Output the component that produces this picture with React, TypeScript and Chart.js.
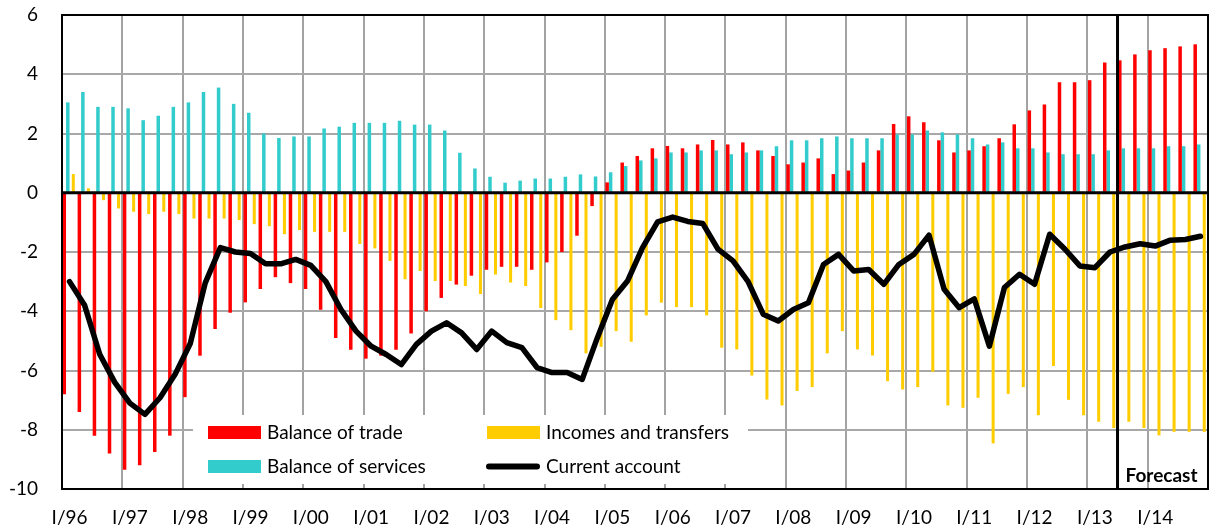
import React, { useEffect, useRef } from "react";
import { Chart, registerables } from "chart.js";

Chart.register(...registerables);

const yearLabels = ["96", "97", "98", "99", "00", "01", "02", "03", "04", "05", "06", "07", "08", "09", "10", "11", "12", "13", "14"];
const quarterLabels = ["I", "II", "III", "IV"];
const categories = yearLabels.flatMap((y) => quarterLabels.map((q) => `${q}/${y}`));

const balanceOfTrade = [
  -6.8, -7.4, -8.2, -8.8, -9.35, -9.2, -8.75, -8.2, -6.9, -5.5, -4.6, -4.05,
  -3.7, -3.25, -2.85, -3.05, -3.25, -3.95, -4.9, -5.3, -5.6, -5.5, -5.3, -4.75,
  -4.0, -3.55, -3.1, -2.8, -2.6, -2.5, -2.5, -2.6, -2.35, -2.0, -1.45, -0.45,
  0.35, 1.02, 1.24, 1.5, 1.58, 1.5, 1.63, 1.78, 1.63, 1.7, 1.43, 1.24,
  0.96, 1.02, 1.16, 0.63, 0.75, 1.02, 1.43, 2.32, 2.58, 2.38, 1.77, 1.36,
  1.43, 1.57, 1.84, 2.31, 2.78, 2.98, 3.73, 3.73, 3.8, 4.4, 4.47, 4.67,
  4.81, 4.88, 4.94, 5.01,
];

const balanceOfServices = [
  3.05, 3.4, 2.9, 2.9, 2.85, 2.45, 2.6, 2.9, 3.05, 3.4, 3.55, 3.0,
  2.7, 2.0, 1.85, 1.9, 1.9, 2.17, 2.23, 2.36, 2.36, 2.36, 2.43, 2.3,
  2.3, 2.1, 1.35, 0.82, 0.54, 0.34, 0.41, 0.48, 0.48, 0.54, 0.62, 0.55,
  0.69, 0.9, 1.09, 1.16, 1.36, 1.36, 1.43, 1.43, 1.3, 1.36, 1.43, 1.57,
  1.77, 1.77, 1.84, 1.9, 1.84, 1.84, 1.84, 1.97, 1.97, 2.1, 2.04, 1.97,
  1.84, 1.63, 1.7, 1.5, 1.5, 1.36, 1.3, 1.3, 1.3, 1.43, 1.5, 1.5,
  1.5, 1.57, 1.57, 1.63,
];

const incomesAndTransfers = [
  0.63, 0.15, -0.25, -0.53, -0.64, -0.72, -0.64, -0.72, -0.87, -0.87, -0.87, -0.92,
  -1.06, -1.13, -1.4, -1.26, -1.32, -1.32, -1.32, -1.73, -1.88, -2.3, -2.92, -2.64,
  -2.98, -2.98, -3.15, -3.42, -2.76, -3.03, -3.15, -3.89, -4.3, -4.64, -5.42, -5.2,
  -4.67, -5.03, -4.14, -3.71, -3.86, -3.86, -4.14, -5.23, -5.29, -6.17, -6.98, -7.18,
  -6.69, -6.56, -5.42, -4.67, -5.29, -5.49, -6.36, -6.64, -6.56, -6.04, -7.18, -7.26,
  -6.92, -8.46, -6.79, -6.56, -7.51, -5.85, -6.99, -7.51, -7.73, -7.94, -7.73, -7.94,
  -8.19, -8.07, -8.07, -8.07,
];

const currentAccount = [
  -3.0, -3.8, -5.45, -6.4, -7.1, -7.48, -6.92, -6.13, -5.1, -3.04, -1.85, -2.0,
  -2.05, -2.4, -2.4, -2.25, -2.45, -3.0, -3.94, -4.67, -5.18, -5.46, -5.8, -5.12,
  -4.67, -4.39, -4.73, -5.29, -4.67, -5.06, -5.23, -5.9, -6.07, -6.07, -6.3, -4.9,
  -3.6, -2.98, -1.85, -0.98, -0.82, -0.97, -1.04, -1.9, -2.3, -3.0, -4.1, -4.33,
  -3.94, -3.71, -2.42, -2.08, -2.64, -2.59, -3.09, -2.42, -2.08, -1.43, -3.26, -3.88,
  -3.58, -5.18, -3.2, -2.75, -3.09, -1.4, -1.9, -2.47, -2.53, -2.0, -1.83, -1.72,
  -1.8, -1.6, -1.58, -1.47,
];

const yMin = -10;
const yMax = 6;
const yStep = 2;
const forecastStart = "III/13";
const forecastLabel = "Forecast";

const RED = "#ff0000";
const CYAN = "#33cccc";
const YELLOW = "#ffcc00";
const FONT = "Lato";
const CLEAR = "rgba(0,0,0,0)";

const legendEntries = [
  { label: "Balance of trade", color: RED, kind: "box", col: 0, row: 0 },
  { label: "Incomes and transfers", color: YELLOW, kind: "box", col: 1, row: 0 },
  { label: "Balance of services", color: CYAN, kind: "box", col: 0, row: 1 },
  { label: "Current account", color: "#000000", kind: "line", col: 1, row: 1 },
];

const overlayPlugin = {
  id: "overlay",
  afterDatasetsDraw(chart: any) {
    const { ctx, chartArea: a, scales } = chart;
    const xs = scales.x;
    const ys = scales.y;
    ctx.save();

    const y0 = ys.getPixelForValue(0);
    ctx.strokeStyle = "#000";
    ctx.lineWidth = 3;
    ctx.beginPath();
    ctx.moveTo(a.left, y0);
    ctx.lineTo(a.right, y0);
    ctx.stroke();

    const fIdx = categories.indexOf(forecastStart);
    const xf = xs.getPixelForValue(fIdx - 0.5);
    ctx.lineWidth = 3;
    ctx.beginPath();
    ctx.moveTo(xf, a.top);
    ctx.lineTo(xf, a.bottom);
    ctx.stroke();

    ctx.fillStyle = "#000";
    ctx.font = `bold 19px ${FONT}`;
    ctx.textAlign = "left";
    ctx.textBaseline = "alphabetic";
    ctx.fillText(forecastLabel, xf + 8, a.bottom - 7);

    const lx = a.left + 131;
    const ly = a.bottom - 74;
    ctx.fillStyle = "#fff";
    ctx.fillRect(lx, ly, 555, 69);
    ctx.font = `19px ${FONT}`;
    ctx.textBaseline = "middle";
    for (const e of legendEntries) {
      const sx = lx + 15 + e.col * 279;
      const cy = ly + 17.5 + e.row * 34;
      if (e.kind === "box") {
        ctx.fillStyle = e.color;
        ctx.fillRect(sx, cy - 6.5, 53, 13);
      } else {
        ctx.strokeStyle = e.color;
        ctx.lineWidth = 6;
        ctx.lineCap = "round";
        ctx.beginPath();
        ctx.moveTo(sx + 2, cy);
        ctx.lineTo(sx + 50, cy);
        ctx.stroke();
      }
      ctx.fillStyle = "#000";
      ctx.fillText(e.label, sx + 59, cy);
    }

    ctx.strokeStyle = "#000";
    ctx.lineWidth = 2;
    ctx.lineCap = "butt";
    ctx.strokeRect(a.left, a.top, a.right - a.left, a.bottom - a.top);
    ctx.restore();
  },
};

export default function App() {
  const ref = useRef<HTMLCanvasElement>(null);

  useEffect(() => {
    const canvas = ref.current;
    if (!canvas) return;
    const chart = new Chart(canvas, {
      type: "bar",
      data: {
        labels: categories,
        datasets: [
          {
            type: "line",
            label: "Current account",
            data: currentAccount,
            borderColor: "#000",
            backgroundColor: "#000",
            borderWidth: 5.5,
            pointRadius: 0,
            tension: 0,
            borderJoinStyle: "round",
            borderCapStyle: "round",
            order: 0,
            xAxisID: "x",
            yAxisID: "y",
          } as any,
          {
            type: "bar",
            label: "Incomes and transfers",
            data: incomesAndTransfers,
            backgroundColor: YELLOW,
            order: 1,
            xAxisID: "x2",
            yAxisID: "y",
            categoryPercentage: 1,
            barPercentage: 0.4,
          },
          {
            type: "bar",
            label: "Balance of trade",
            data: balanceOfTrade,
            backgroundColor: RED,
            order: 2,
            xAxisID: "x",
            yAxisID: "y",
            categoryPercentage: 0.93,
            barPercentage: 1,
          },
          {
            type: "bar",
            label: "Balance of services",
            data: balanceOfServices,
            backgroundColor: CYAN,
            order: 3,
            xAxisID: "x",
            yAxisID: "y",
            categoryPercentage: 0.93,
            barPercentage: 1,
          },
        ],
      },
      options: {
        responsive: false,
        animation: false,
        layout: { padding: { top: 15, right: 4, bottom: 0, left: 0 } },
        plugins: { legend: { display: false }, tooltip: { enabled: false }, title: { display: false } },
        scales: {
          x: {
            type: "category",
            position: "bottom",
            offset: true,
            grid: {
              offset: true,
              drawTicks: true,
              tickLength: 17,
              tickColor: CLEAR,
              lineWidth: 2,
              color: (c: any) => (c.index % 4 === 0 ? "#a3a3a3" : CLEAR),
            },
            border: { display: false },
            ticks: {
              autoSkip: false,
              maxRotation: 0,
              minRotation: 0,
              padding: 0,
              color: "#000",
              font: { family: FONT, size: 19 },
              callback: (_v: any, i: number) => (i % 4 === 0 ? categories[i] : ""),
            },
            afterFit: (s: any) => {
              s.height = 40;
            },
          },
          x2: {
            type: "category",
            position: "bottom",
            labels: categories,
            offset: true,
            display: false,
            grid: { display: false },
            afterFit: (s: any) => {
              s.height = 0;
            },
          },
          y: {
            position: "left",
            min: yMin,
            max: yMax,
            ticks: {
              stepSize: yStep,
              padding: 0,
              color: "#000",
              font: { family: FONT, size: 19 },
            },
            grid: { drawTicks: true, tickLength: 24, tickColor: CLEAR, lineWidth: 2, color: "#a8a8a8" },
            border: { display: false },
            afterFit: (s: any) => {
              s.width = 62;
            },
          },
        },
      } as any,
      plugins: [overlayPlugin],
    });
    return () => chart.destroy();
  }, []);

  return (
    <div style={{ position: "fixed", left: 0, top: 0, width: 1212, height: 529, background: "#fff" }}>
      <canvas ref={ref} width={1212} height={529} style={{ display: "block" }} />
    </div>
  );
}
